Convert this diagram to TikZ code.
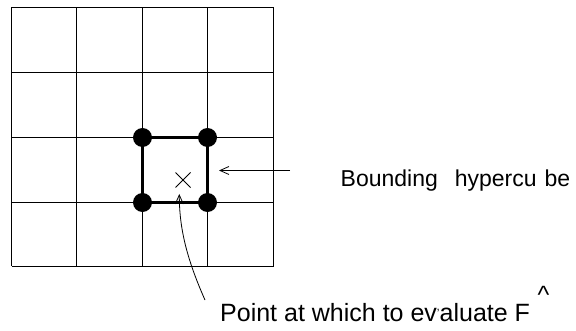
\documentclass[tikz,border=0pt]{standalone}
\usepackage{fontspec}
\setmainfont{Liberation Sans}
\usetikzlibrary{arrows.meta}
\begin{document}
\begin{tikzpicture}[x=1pt,y=-1pt,
  gridline/.style={line width=1.6pt},
  cubeline/.style={line width=3pt},
  corner/.style={circle,fill=black,inner sep=0pt,minimum size=19pt},
  pointer/.style={line width=0.8pt,-{Straight Barb[length=9pt,width=8pt,line width=0.8pt]}},
  lbl/.style={inner sep=0pt,anchor=base west}]
\useasboundingbox (0,0) rectangle (576,331);
% grid
\foreach \x in {11.5,76.5,142.5,207.5,273.5} \draw[gridline] (\x,7.5) -- (\x,266.5);
\foreach \y in {7.5,72.5,137.5,202.5,266.5} \draw[gridline] (11.5,\y) -- (273.5,\y);
% bounding hypercube
\coordinate (c1) at (142.5,137.5);
\coordinate (c2) at (207.5,137.5);
\coordinate (c3) at (207.5,202.5);
\coordinate (c4) at (142.5,202.5);
\draw[cubeline] (c1) -- (c2) -- (c3) -- (c4) -- cycle;
\node[corner] (d1) at (c1) {};
\node[corner] (d2) at (c2) {};
\node[corner] (d3) at (c3) {};
\node[corner] (d4) at (c4) {};
% evaluation point
\coordinate (p) at (183,180);
\draw[line width=0.9pt] (175.5,172.5) -- (190.5,187.5) (175.5,187.5) -- (190.5,172.5);
% labels
\node[lbl,font=\fontsize{23}{25}\selectfont] (bh) at (340.5,186.5) {Bounding\hspace{17pt}hypercu\hspace{8pt}be};
\node[lbl,font=\fontsize{25}{27}\selectfont] (pt) at (220,321) {Point at which to ev\raisebox{4pt}{\fontsize{12}{12}\selectfont'}aluate F};
\node[inner sep=0pt,font=\fontsize{25}{27}\selectfont] (hat) at (543.5,295) {\textasciicircum};
% connectors
\coordinate (a1) at (290,170.5);
\coordinate (a1e) at (219,170.5);
\draw[pointer] (a1) -- (a1e);
\coordinate (b1) at (205,300);
\coordinate (b1e) at (179.3,194);
\draw[pointer] (b1) .. controls (185,255) and (179.3,225) .. (b1e);
\end{tikzpicture}
\end{document}
